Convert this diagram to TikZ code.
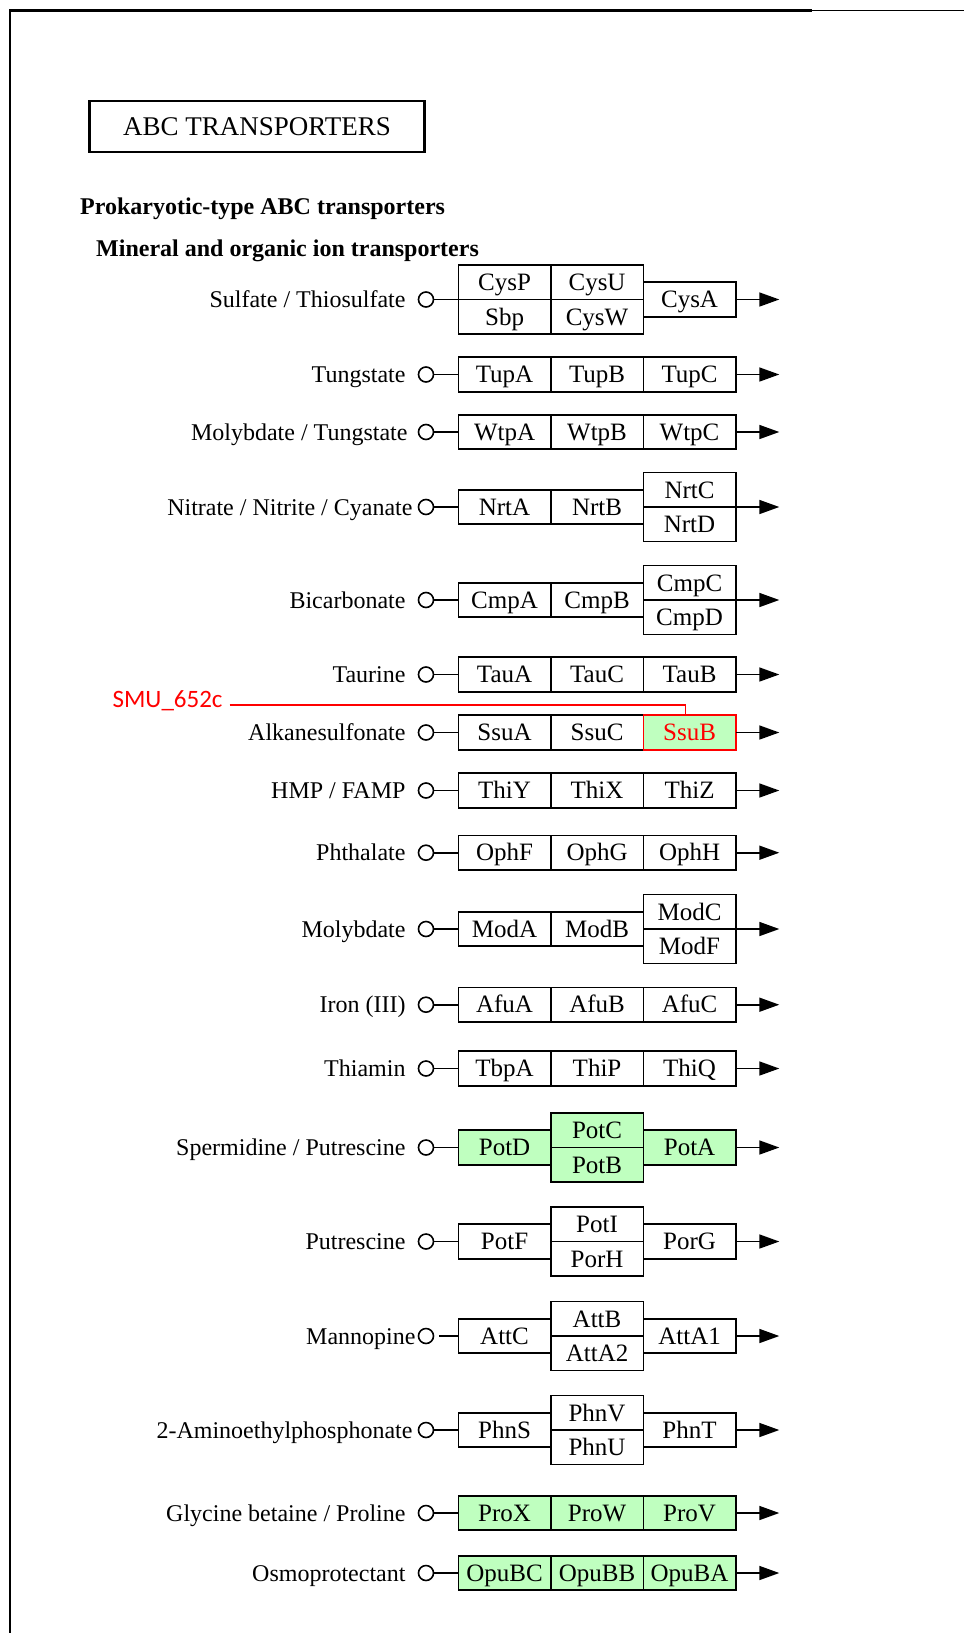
\documentclass[tikz,border=0pt]{standalone}
\usepackage{fontspec}
\setmainfont{Liberation Serif}
\newfontfamily\smufont{Carlito}
\usepackage{tikz}
\usetikzlibrary{positioning,arrows.meta}
\definecolor{keggreen}{HTML}{BFFFBF}

\begin{document}
\begin{tikzpicture}[x=1pt, y=-1pt, node distance=12pt,
    every node/.style={font=\fontsize{24}{28}\selectfont},
    genebox/.style={draw, line width=1.6pt, minimum width=92.5pt, minimum height=34.5pt,
      inner sep=0pt, outer sep=0pt, text height=16.5pt, text depth=0pt,
      font=\fontsize{25}{28}\selectfont},
    genefound/.style={genebox, fill=keggreen},
    genehit/.style={genefound, draw=red, text=red},
    portcirc/.style={circle, draw, line width=1.6pt, minimum size=15pt, inner sep=0pt},
    sublabel/.style={inner sep=0pt, text height=16pt, text depth=0pt},
    heading/.style={anchor=west, inner sep=0pt, text height=16pt, text depth=0pt,
      font=\bfseries\fontsize{24}{28}\selectfont},
    feedline/.style={line width=1.6pt},
    exportline/.style={line width=1.6pt, -{Triangle[length=20pt,width=14pt]}}]
    \useasboundingbox (0,0) rectangle (964,1633);
    % page frame
    \draw[line width=3pt] (10,10.5) -- (812,10.5);
    \draw[line width=1.5pt] (812,10.5) -- (964,10.5);
    \draw[line width=2pt] (10,9) -- (10,1633);

    \node[draw, line width=2.6pt, minimum width=335pt, minimum height=51pt, inner sep=0pt,
      font=\fontsize{27}{30}\selectfont] (title) at (257,126.5) {ABC TRANSPORTERS};
    \node[heading] (prok) at (80,206) {Prokaryotic-type ABC transporters};
    \node[heading] (mineral) at (96,248) {Mineral and organic ion transporters};

    % Sulfate / Thiosulfate
    \node[portcirc] (sulfIn) at (426,299.5) {};
    \node[sublabel, left=of sulfIn] (sulfLbl) {Sulfate / Thiosulfate};
    \node[genebox, anchor=south west] (cysP) at (458.3,299.5) {CysP};
    \node[genebox, right=0pt of cysP] (cysU) {CysU};
    \node[genebox, below=0pt of cysP] (sbp) {Sbp};
    \node[genebox, below=0pt of cysU] (cysW) {CysW};
    \node[genebox, anchor=west] (cysA) at (cysU.south east) {CysA};
    \coordinate[right=43.5pt of cysA.east] (sulfOut);
    \draw[feedline] (sulfIn) -- (cysP.south west);
    \draw[exportline] (cysA) -- (sulfOut);

    % Tungstate
    \node[portcirc] (tungIn) at (426,374.5) {};
    \node[sublabel, left=of tungIn] (tungLbl) {Tungstate};
    \node[genebox, anchor=west] (tupA) at (458.3,374.5) {TupA};
    \node[genebox, right=0pt of tupA] (tupB) {TupB};
    \node[genebox, right=0pt of tupB] (tupC) {TupC};
    \coordinate[right=43.5pt of tupC.east] (tungOut);
    \draw[feedline] (tungIn) -- (tupA);
    \draw[exportline] (tupC) -- (tungOut);

    % Molybdate / Tungstate
    \node[portcirc] (motuIn) at (426,432) {};
    \node[sublabel, left=10pt of motuIn] (motuLbl) {Molybdate / Tungstate};
    \node[genebox, anchor=west] (wtpA) at (458.3,432) {WtpA};
    \node[genebox, right=0pt of wtpA] (wtpB) {WtpB};
    \node[genebox, right=0pt of wtpB] (wtpC) {WtpC};
    \coordinate[right=43.5pt of wtpC.east] (motuOut);
    \draw[feedline] (motuIn) -- (wtpA);
    \draw[exportline] (wtpC) -- (motuOut);

    % Nitrate / Nitrite / Cyanate
    \node[portcirc] (nitIn) at (426,507) {};
    \node[sublabel, left=5pt of nitIn] (nitLbl) {Nitrate / Nitrite / Cyanate};
    \node[genebox, anchor=west] (nrtA) at (458.3,507) {NrtA};
    \node[genebox, right=0pt of nrtA] (nrtB) {NrtB};
    \node[genebox, anchor=south west] (nrtC) at (nrtB.east) {NrtC};
    \node[genebox, below=0pt of nrtC] (nrtD) {NrtD};
    \coordinate[right=43.5pt of nrtC.south east] (nitOut);
    \draw[feedline] (nitIn) -- (nrtA);
    \draw[exportline] (nrtC.south east) -- (nitOut);

    % Bicarbonate
    \node[portcirc] (bicIn) at (426,600) {};
    \node[sublabel, left=of bicIn] (bicLbl) {Bicarbonate};
    \node[genebox, anchor=west] (cmpA) at (458.3,600) {CmpA};
    \node[genebox, right=0pt of cmpA] (cmpB) {CmpB};
    \node[genebox, anchor=south west] (cmpC) at (cmpB.east) {CmpC};
    \node[genebox, below=0pt of cmpC] (cmpD) {CmpD};
    \coordinate[right=43.5pt of cmpC.south east] (bicOut);
    \draw[feedline] (bicIn) -- (cmpA);
    \draw[exportline] (cmpC.south east) -- (bicOut);

    % Taurine
    \node[portcirc] (tauIn) at (426,674.5) {};
    \node[sublabel, left=of tauIn] (tauLbl) {Taurine};
    \node[genebox, anchor=west] (tauA) at (458.3,674.5) {TauA};
    \node[genebox, right=0pt of tauA] (tauC) {TauC};
    \node[genebox, right=0pt of tauC] (tauB) {TauB};
    \coordinate[right=43.5pt of tauB.east] (tauOut);
    \draw[feedline] (tauIn) -- (tauA);
    \draw[exportline] (tauB) -- (tauOut);

    % Alkanesulfonate
    \node[portcirc] (alkIn) at (426,732.5) {};
    \node[sublabel, left=of alkIn] (alkLbl) {Alkanesulfonate};
    \node[genebox, anchor=west] (ssuA) at (458.3,732.5) {SsuA};
    \node[genebox, right=0pt of ssuA] (ssuC) {SsuC};
    \node[genehit, right=0pt of ssuC] (ssuB) {SsuB};
    \coordinate[right=43.5pt of ssuB.east] (alkOut);
    \draw[feedline] (alkIn) -- (ssuA);
    \draw[exportline] (ssuB) -- (alkOut);
    \node[anchor=west, inner sep=0pt, text height=16pt, text depth=0pt, text=red,
      font=\smufont\fontsize{25}{28}\selectfont] (smu) at (112.4,699) {SMU\_652c};
    \draw[red, line width=1.3pt] ([xshift=7pt,yshift=-6pt]smu.east) -| ([xshift=-4pt]ssuB.north);

    % HMP / FAMP
    \node[portcirc] (hmpIn) at (426,790.5) {};
    \node[sublabel, left=of hmpIn] (hmpLbl) {HMP / FAMP};
    \node[genebox, anchor=west] (thiY) at (458.3,790.5) {ThiY};
    \node[genebox, right=0pt of thiY] (thiX) {ThiX};
    \node[genebox, right=0pt of thiX] (thiZ) {ThiZ};
    \coordinate[right=43.5pt of thiZ.east] (hmpOut);
    \draw[feedline] (hmpIn) -- (thiY);
    \draw[exportline] (thiZ) -- (hmpOut);

    % Phthalate
    \node[portcirc] (phtIn) at (426,852.7) {};
    \node[sublabel, left=of phtIn] (phtLbl) {Phthalate};
    \node[genebox, anchor=west] (ophF) at (458.3,852.7) {OphF};
    \node[genebox, right=0pt of ophF] (ophG) {OphG};
    \node[genebox, right=0pt of ophG] (ophH) {OphH};
    \coordinate[right=43.5pt of ophH.east] (phtOut);
    \draw[feedline] (phtIn) -- (ophF);
    \draw[exportline] (ophH) -- (phtOut);

    % Molybdate
    \node[portcirc] (molIn) at (426,929) {};
    \node[sublabel, left=of molIn] (molLbl) {Molybdate};
    \node[genebox, anchor=west] (modA) at (458.3,929) {ModA};
    \node[genebox, right=0pt of modA] (modB) {ModB};
    \node[genebox, anchor=south west] (modC) at (modB.east) {ModC};
    \node[genebox, below=0pt of modC] (modF) {ModF};
    \coordinate[right=43.5pt of modC.south east] (molOut);
    \draw[feedline] (molIn) -- (modA);
    \draw[exportline] (modC.south east) -- (molOut);

    % Iron (III)
    \node[portcirc] (ironIn) at (426,1004.7) {};
    \node[sublabel, left=of ironIn] (ironLbl) {Iron (III)};
    \node[genebox, anchor=west] (afuA) at (458.3,1004.7) {AfuA};
    \node[genebox, right=0pt of afuA] (afuB) {AfuB};
    \node[genebox, right=0pt of afuB] (afuC) {AfuC};
    \coordinate[right=43.5pt of afuC.east] (ironOut);
    \draw[feedline] (ironIn) -- (afuA);
    \draw[exportline] (afuC) -- (ironOut);

    % Thiamin
    \node[portcirc] (thmIn) at (426,1068.5) {};
    \node[sublabel, left=of thmIn] (thmLbl) {Thiamin};
    \node[genebox, anchor=west] (tbpA) at (458.3,1068.5) {TbpA};
    \node[genebox, right=0pt of tbpA] (thiP) {ThiP};
    \node[genebox, right=0pt of thiP] (thiQ) {ThiQ};
    \coordinate[right=43.5pt of thiQ.east] (thmOut);
    \draw[feedline] (thmIn) -- (tbpA);
    \draw[exportline] (thiQ) -- (thmOut);

    % Spermidine / Putrescine
    \node[portcirc] (sprIn) at (426,1147.5) {};
    \node[sublabel, left=of sprIn] (sprLbl) {Spermidine / Putrescine};
    \node[genefound, anchor=west] (potD) at (458.3,1147.5) {PotD};
    \node[genefound, anchor=south west] (potC) at (potD.east) {PotC};
    \node[genefound, below=0pt of potC] (potB) {PotB};
    \node[genefound, anchor=west] (potA) at (potC.south east) {PotA};
    \coordinate[right=43.5pt of potA.east] (sprOut);
    \draw[feedline] (sprIn) -- (potD);
    \draw[exportline] (potA) -- (sprOut);

    % Putrescine
    \node[portcirc] (putIn) at (426,1241.5) {};
    \node[sublabel, left=of putIn] (putLbl) {Putrescine};
    \node[genebox, anchor=west] (potF) at (458.3,1241.5) {PotF};
    \node[genebox, anchor=south west] (potI) at (potF.east) {PotI};
    \node[genebox, below=0pt of potI] (porH) {PorH};
    \node[genebox, anchor=west] (porG) at (potI.south east) {PorG};
    \coordinate[right=43.5pt of porG.east] (putOut);
    \draw[feedline] (putIn) -- (potF);
    \draw[exportline] (porG) -- (putOut);

    % Mannopine
    \node[portcirc] (manIn) at (426,1336) {};
    \node[sublabel, left=2pt of manIn] (manLbl) {Mannopine};
    \node[genebox, anchor=west] (attC) at (458.3,1336) {AttC};
    \node[genebox, anchor=south west] (attB) at (attC.east) {AttB};
    \node[genebox, below=0pt of attB] (attA2) {AttA2};
    \node[genebox, anchor=west] (attA1) at (attB.south east) {AttA1};
    \coordinate[right=43.5pt of attA1.east] (manOut);
    \draw[feedline, shorten <=5pt] (manIn) -- (attC);
    \draw[exportline] (attA1) -- (manOut);

    % 2-Aminoethylphosphonate
    \node[portcirc] (aepIn) at (426,1430) {};
    \node[sublabel, left=5pt of aepIn] (aepLbl) {2-Aminoethylphosphonate};
    \node[genebox, anchor=west] (phnS) at (458.3,1430) {PhnS};
    \node[genebox, anchor=south west] (phnV) at (phnS.east) {PhnV};
    \node[genebox, below=0pt of phnV] (phnU) {PhnU};
    \node[genebox, anchor=west] (phnT) at (phnV.south east) {PhnT};
    \coordinate[right=43.5pt of phnT.east] (aepOut);
    \draw[feedline] (aepIn) -- (phnS);
    \draw[exportline] (phnT) -- (aepOut);

    % Glycine betaine / Proline
    \node[portcirc] (glyIn) at (426,1513) {};
    \node[sublabel, left=of glyIn] (glyLbl) {Glycine betaine / Proline};
    \node[genefound, anchor=west] (proX) at (458.3,1513) {ProX};
    \node[genefound, right=0pt of proX] (proW) {ProW};
    \node[genefound, right=0pt of proW] (proV) {ProV};
    \coordinate[right=43.5pt of proV.east] (glyOut);
    \draw[feedline] (glyIn) -- (proX);
    \draw[exportline] (proV) -- (glyOut);

    % Osmoprotectant
    \node[portcirc] (osmIn) at (426,1573) {};
    \node[sublabel, left=of osmIn] (osmLbl) {Osmoprotectant};
    \node[genefound, anchor=west] (opuBC) at (458.3,1573) {OpuBC};
    \node[genefound, right=0pt of opuBC] (opuBB) {OpuBB};
    \node[genefound, right=0pt of opuBB] (opuBA) {OpuBA};
    \coordinate[right=43.5pt of opuBA.east] (osmOut);
    \draw[feedline] (osmIn) -- (opuBC);
    \draw[exportline] (opuBA) -- (osmOut);
  \end{tikzpicture}
\end{document}
